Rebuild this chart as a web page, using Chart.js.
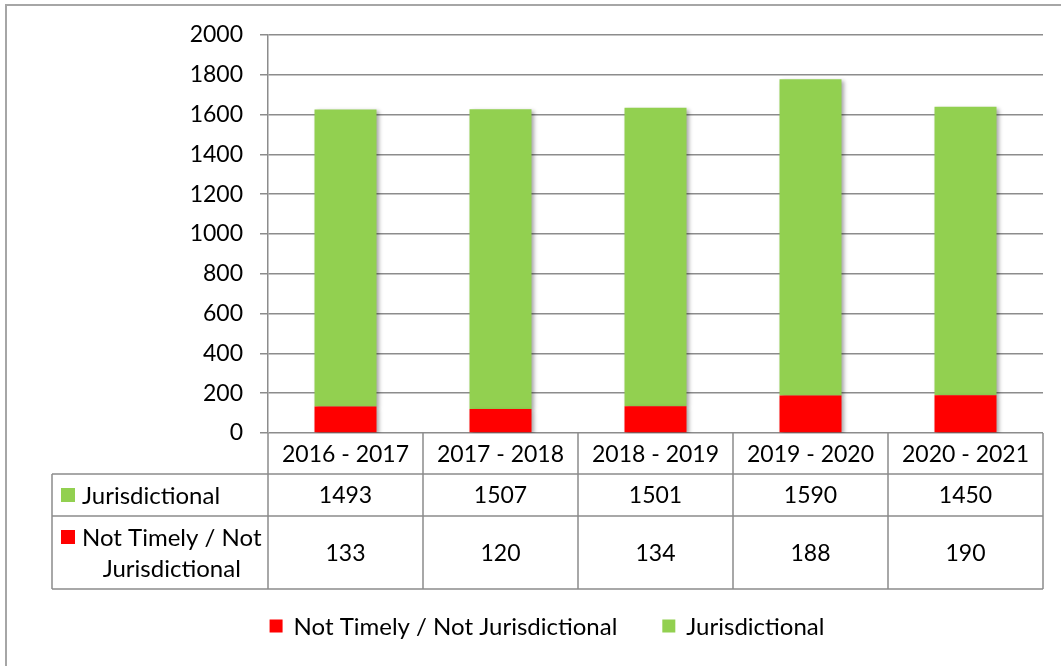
<!DOCTYPE html>
<html>
<head>
<meta charset="utf-8">
<style>
  body { margin: 0; background: #fff; }
  .chart-container { position: relative; width: 1061px; height: 666px; }
</style>
<script src="https://cdn.jsdelivr.net/npm/chart.js@4.4.1/dist/chart.umd.min.js"></script>
</head>
<body>
<div class="chart-container">
  <canvas id="caseChart"></canvas>
</div>
<script>
const years = ['2016 - 2017', '2017 - 2018', '2018 - 2019', '2019 - 2020', '2020 - 2021'];
const jurisdictional = [1493, 1507, 1501, 1590, 1450];
const notTimely = [133, 120, 134, 188, 190];
const yTicks = [0, 200, 400, 600, 800, 1000, 1200, 1400, 1600, 1800, 2000];

const FONT = "Lato, 'Open Sans', sans-serif";
const LINE = '#8c8c8c';

// outer frame around the whole chart object
const framePlugin = {
    id: 'frame',
    beforeDraw(chart) {
        const ctx = chart.ctx;
        ctx.save();
        ctx.strokeStyle = '#a6a6a6';
        ctx.lineWidth = 2;
        ctx.strokeRect(6, 5, chart.width + 20, chart.height + 20);
        ctx.restore();
    }
};

// soft shadow on the bars, like the office chart
const shadowPlugin = {
    id: 'barShadow',
    beforeDatasetsDraw(chart) {
        const ctx = chart.ctx;
        ctx.save();
        ctx.shadowColor = 'rgba(0,0,0,0.35)';
        ctx.shadowBlur = 4;
        ctx.shadowOffsetX = 2;
        ctx.shadowOffsetY = 2;
    },
    afterDatasetsDraw(chart) {
        chart.ctx.restore();
    }
};

// data table under the x axis + legend at the bottom
const tablePlugin = {
    id: 'dataTable',
    afterDraw(chart) {
        const ctx = chart.ctx;
        const xs = chart.scales.x;
        const area = chart.chartArea;
        const half = (xs.getPixelForValue(1) - xs.getPixelForValue(0)) / 2;

        const top = area.bottom;
        const row1 = top + 41;
        const row2 = row1 + 42;
        const bottom = xs.bottom;
        const labelLeft = 52;

        ctx.save();
        ctx.strokeStyle = LINE;
        ctx.lineWidth = 1.5;
        ctx.beginPath();
        [row1, row2, bottom].forEach(y => {
            ctx.moveTo(labelLeft, y);
            ctx.lineTo(area.right, y);
        });
        ctx.moveTo(labelLeft, row1);
        ctx.lineTo(labelLeft, bottom);
        for (let i = 0; i <= years.length; i++) {
            const x = xs.getPixelForValue(0) - half + i * half * 2;
            ctx.moveTo(x, top);
            ctx.lineTo(x, bottom);
        }
        ctx.stroke();

        ctx.fillStyle = '#000';
        ctx.font = '23px ' + FONT;
        ctx.textBaseline = 'middle';
        ctx.textAlign = 'center';
        years.forEach((y, i) => {
            const cx = xs.getPixelForValue(i);
            ctx.fillText(y, cx, (top + row1) / 2 + 1);
            ctx.fillText(String(jurisdictional[i]), cx, (row1 + row2) / 2 + 1);
            ctx.fillText(String(notTimely[i]), cx, (row2 + bottom) / 2 + 1);
        });

        // row headers with legend keys
        ctx.font = '24px ' + FONT;
        const green = chart.data.datasets[1];
        const red = chart.data.datasets[0];
        const textLeft = labelLeft + 30;
        ctx.fillStyle = green.backgroundColor;
        ctx.fillRect(labelLeft + 9, (row1 + row2) / 2 - 7, 14, 14);
        ctx.fillStyle = '#000';
        ctx.textAlign = 'left';
        ctx.fillText(green.label, textLeft, (row1 + row2) / 2 + 1);

        const line1 = 'Not Timely / Not';
        const line2 = 'Jurisdictional';
        const w1 = ctx.measureText(line1).width;
        ctx.fillStyle = red.backgroundColor;
        ctx.fillRect(labelLeft + 9, row2 + 14, 14, 14);
        ctx.fillStyle = '#000';
        ctx.fillText(line1, textLeft, row2 + 22);
        ctx.textAlign = 'center';
        ctx.fillText(line2, textLeft + w1 / 2, row2 + 53);

        // legend
        const items = chart.data.datasets.map(d => ({ color: d.backgroundColor, text: d.label }));
        const box = 13, gap = 11, spacing = 45;
        let total = 0;
        items.forEach((it, i) => {
            total += box + gap + ctx.measureText(it.text).width + (i ? 0 : spacing);
        });
        let x = 547 - total / 2;
        const ly = bottom + 37;
        ctx.textAlign = 'left';
        items.forEach(it => {
            ctx.fillStyle = it.color;
            ctx.fillRect(x, ly - box / 2, box, box);
            ctx.fillStyle = '#000';
            ctx.fillText(it.text, x + box + gap, ly + 1);
            x += box + gap + ctx.measureText(it.text).width + spacing;
        });
        ctx.restore();
    }
};

const ctx = document.getElementById('caseChart').getContext('2d');
new Chart(ctx, {
    type: 'bar',
    data: {
        labels: years,
        datasets: [
            {
                label: 'Not Timely / Not Jurisdictional',
                data: notTimely,
                backgroundColor: '#ff0000',
                barPercentage: 0.4,
                categoryPercentage: 1
            },
            {
                label: 'Jurisdictional',
                data: jurisdictional,
                backgroundColor: '#92d050',
                barPercentage: 0.4,
                categoryPercentage: 1
            }
        ]
    },
    options: {
        responsive: true,
        maintainAspectRatio: false,
        animation: false,
        layout: {
            padding: { top: 35, right: 18, bottom: 77, left: 0 }
        },
        plugins: {
            legend: { display: false },
            tooltip: { enabled: false }
        },
        scales: {
            x: {
                stacked: true,
                grid: { display: false },
                border: { display: false },
                ticks: { display: false },
                afterFit(scale) { scale.height = 156; }
            },
            y: {
                stacked: true,
                min: 0,
                max: 2000,
                afterBuildTicks(scale) {
                    scale.ticks = yTicks.map(v => ({ value: v }));
                },
                afterFit(scale) { scale.width = 268; },
                grid: {
                    color: LINE,
                    lineWidth: 1.5,
                    tickLength: 8
                },
                border: { color: LINE, width: 1.5 },
                ticks: {
                    color: '#000',
                    padding: 17,
                    font: { family: FONT, size: 23 },
                    callback: value => String(value)
                }
            }
        }
    },
    plugins: [framePlugin, shadowPlugin, tablePlugin]
});
</script>
</body>
</html>
